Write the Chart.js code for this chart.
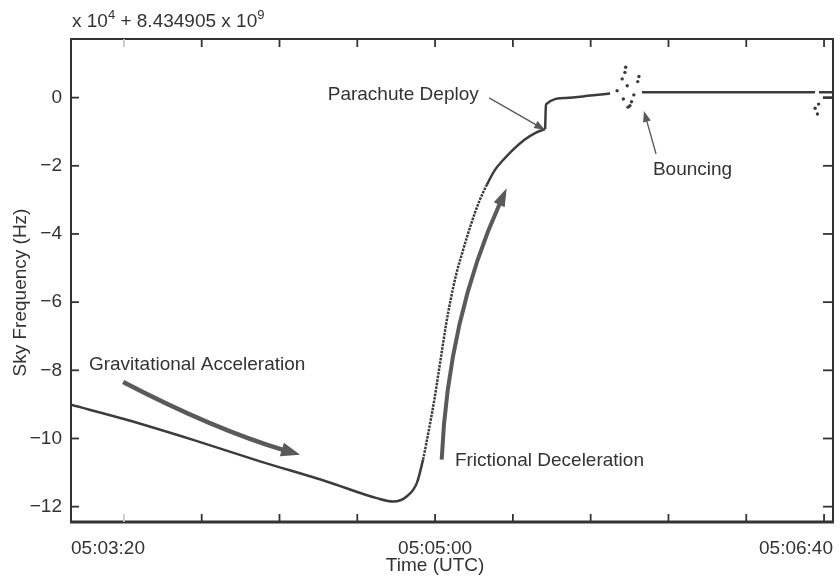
<!DOCTYPE html>
<html>
<head>
<meta charset="utf-8">
<title>Sky frequency during descent</title>
<script src="https://cdn.jsdelivr.net/npm/chart.js@4/dist/chart.umd.min.js"></script>
<style>
  html, body { margin: 0; padding: 0; background: #fff; }
</style>
</head>
<body>
<canvas id="sky" width="840" height="577"></canvas>
<script>
'use strict';

// Time in seconds after 05:03:20 UTC
const timeSec = [
  6.4, 20.7, 37.8, 55.0, 72.1, 85.0, 89.3, 92.7, 95.3,
  96.9, 98.4, 99.8, 101.0, 101.8, 102.8, 104.0, 105.4, 107.2,
  109.2, 111.5, 113.3, 115.4, 117.5, 120.0, 122.9, 125.7, 128.3,
  128.5, 133.6, 140.0, 145.0, 146.0, 153.2, 170.0, 185.0, 197.7, 198.2, 198.7, 202.3,
];
// Sky frequency, x 10^4 Hz above 8.434905 x 10^9 Hz
const skyFreq = [
  -9.01, -9.45, -10.04, -10.67, -11.26, -11.75, -11.85, -11.70, -11.31,
  -10.62, -9.75, -8.87, -7.99, -7.40, -6.67, -5.93, -5.20, -4.47,
  -3.73, -3.00, -2.56, -2.12, -1.83, -1.53, -1.24, -1.04, -0.92,
  -0.20, -0.01, 0.06, 0.12, null, 0.16, 0.16, 0.16, 0.16, null, 0.16, 0.16,
];
const DEPLOY_SEC = 128.3;

// Scattered lock points while the lander bounces
const bounceTime = [146.8, 148.1, 148.8, 149.0, 149.4, 152.1, 152.4, 151.1, 148.4, 150.5, 150.1, 149.6, 197.7, 198.6, 198.3];
const bounceFreq = [0.20, 0.55, 0.74, 0.89, 0.35, 0.47, 0.62, 0.08, -0.04, -0.12, -0.24, -0.28, -0.31, -0.19, -0.48];

// Short second track at the end of the record
const tailTime = [199.7, 202.3];
const tailFreq = [0.0, 0.0];

const xTicks = [20, 40, 60, 80, 100, 120, 140, 160, 180, 200];
const yTicks = [-12, -10, -8, -6, -4, -2, 0];
const X_MIN = 6.4;
const X_MAX = 202.3;
const xLabelAt = [X_MIN, 100, X_MAX];
const xLabelText = ['05:03:20', '05:05:00', '05:06:40'];

const FONT = '"Liberation Sans", Arial, Helvetica, sans-serif';
const INK = '#333333';
const LINE = '#3c3c3c';
const ARROW = '#5a5a5a';

// Callouts, anchored in data units (seconds, 10^4 Hz)
const notes = [
  { text: 'Gravitational Acceleration', at: [11.0, -7.84] },
  { text: 'Frictional Deceleration', at: [105.1, -10.66] },
  { text: 'Parachute Deploy', at: [72.4, 0.09] },
  { text: 'Bouncing', at: [156.0, -2.12] },
];
const arrows = [
  { from: [19.8, -8.34], via: [43.4, -9.74], to: [65.3, -10.48], width: 4.5, head: [19, 14] },
  { from: [101.7, -10.62], via: [103.3, -6.46], to: [118.4, -2.66], width: 4, head: [18, 12] },
  { from: [113.9, -0.01], to: [128.3, -0.95], width: 1.4, head: [11, 8] },
  { from: [156.8, -1.65], to: [153.7, -0.39], width: 1.4, head: [11, 8] },
];

const points = timeSec.map((x, i) => ({ x, y: skyFreq[i] }));
// descent and climb up to the chute, then the trace after the chute opens
const beforeChute = points.filter((p) => p.x <= DEPLOY_SEC);
const afterChute = points.filter((p) => p.x >= DEPLOY_SEC);
const toXY = (xs, ys) => xs.map((x, i) => ({ x, y: ys[i] }));
const steep = (c) => c.p0.parsed.x >= 96 && c.p1.parsed.x <= 113.3;

const decorations = {
  id: 'decorations',
  afterDatasetsDraw(chart) {
    const { ctx, scales: { x, y } } = chart;
    const px = (p) => [x.getPixelForValue(p[0]), y.getPixelForValue(p[1])];
    ctx.save();
    ctx.fillStyle = ARROW;
    ctx.strokeStyle = ARROW;
    arrows.forEach((a) => {
      const p0 = px(a.from);
      const tip = px(a.to);
      const c = a.via ? px(a.via) : p0;
      let dx = tip[0] - c[0];
      let dy = tip[1] - c[1];
      const len = Math.hypot(dx, dy);
      dx /= len; dy /= len;
      const [hl, hw] = a.head;
      const base = [tip[0] - dx * hl * 0.8, tip[1] - dy * hl * 0.8];
      ctx.lineWidth = a.width;
      ctx.lineCap = 'butt';
      ctx.beginPath();
      ctx.moveTo(p0[0], p0[1]);
      if (a.via) ctx.quadraticCurveTo(c[0], c[1], base[0], base[1]);
      else ctx.lineTo(base[0], base[1]);
      ctx.stroke();
      const bx = tip[0] - dx * hl;
      const by = tip[1] - dy * hl;
      ctx.beginPath();
      ctx.moveTo(tip[0], tip[1]);
      ctx.lineTo(bx - dy * hw / 2, by + dx * hw / 2);
      ctx.lineTo(bx + dy * hw / 2, by - dx * hw / 2);
      ctx.closePath();
      ctx.fill();
    });

    ctx.fillStyle = INK;
    ctx.font = '19px ' + FONT;
    ctx.textAlign = 'left';
    ctx.textBaseline = 'middle';
    notes.forEach((n) => {
      const [nx, ny] = px(n.at);
      ctx.fillText(n.text, nx, ny);
    });
    ctx.restore();
  },
  afterDraw(chart) {
    const { ctx, chartArea: a, scales: { x, y } } = chart;
    ctx.save();
    // axes box
    ctx.strokeStyle = INK;
    ctx.lineWidth = 2;
    ctx.strokeRect(a.left, a.top, a.right - a.left, a.bottom - a.top);
    ctx.lineWidth = 3;
    ctx.beginPath();
    ctx.moveTo(a.left - 1, a.bottom);
    ctx.lineTo(a.right + 1, a.bottom);
    ctx.stroke();

    // inward tick marks on all four sides
    ctx.lineWidth = 1.8;
    const seg = (x1, y1, x2, y2) => {
      ctx.beginPath();
      ctx.moveTo(x1, y1);
      ctx.lineTo(x2, y2);
      ctx.stroke();
    };
    xTicks.forEach((v, i) => {
      const p = x.getPixelForValue(v);
      ctx.strokeStyle = i === 0 ? '#c8c8c8' : INK;
      seg(p, a.bottom, p, a.bottom - 8);
      seg(p, a.top, p, a.top + 8);
    });
    ctx.strokeStyle = INK;
    yTicks.forEach((v) => {
      const p = y.getPixelForValue(v);
      seg(a.left, p, a.left + 8, p);
      seg(a.right, p, a.right - 10, p);
    });

    // scale factor above the axes
    ctx.fillStyle = INK;
    ctx.textBaseline = 'alphabetic';
    ctx.textAlign = 'left';
    let cx = a.left + 1;
    const base = 27;
    const put = (s, size, rise) => {
      ctx.font = size + 'px ' + FONT;
      ctx.fillText(s, cx, base - rise);
      cx += ctx.measureText(s).width;
    };
    put('x 10', 19, 0);
    put('4', 13, 8);
    put(' + 8.434905 x 10', 19, 0);
    put('9', 13, 8);

    // axis titles
    ctx.font = '19px ' + FONT;
    ctx.textAlign = 'center';
    ctx.textBaseline = 'middle';
    ctx.fillText('Time (UTC)', x.getPixelForValue(100), 566);
    ctx.translate(21, (a.top + a.bottom) / 2 + 12);
    ctx.rotate(-Math.PI / 2);
    ctx.fillText('Sky Frequency (Hz)', 0, 0);
    ctx.restore();
  },
};

const traceStyle = {
  borderColor: LINE,
  borderWidth: 2.5,
  pointRadius: 0,
  cubicInterpolationMode: 'monotone',
  spanGaps: false,
};

new Chart(document.getElementById('sky'), {
  type: 'line',
  data: {
    datasets: [
      {
        ...traceStyle,
        label: 'Sky frequency',
        data: beforeChute,
        segment: {
          // sparse samples on the steep climb show up as a dotted trace
          borderDash: (c) => (steep(c) ? [2.5, 1.1] : undefined),
          borderWidth: (c) => (steep(c) ? 2.5 : undefined),
        },
      },
      {
        ...traceStyle,
        label: 'Sky frequency (chute)',
        data: afterChute,
      },
      {
        ...traceStyle,
        label: 'Second track',
        data: toXY(tailTime, tailFreq),
      },
      {
        label: 'Bounce points',
        data: toXY(bounceTime, bounceFreq),
        showLine: false,
        pointRadius: 1.7,
        pointBackgroundColor: LINE,
        pointBorderWidth: 0,
      },
    ],
  },
  options: {
    responsive: false,
    animation: false,
    devicePixelRatio: 1,
    layout: { padding: { top: 39, right: 7, left: 0, bottom: 0 } },
    plugins: {
      legend: { display: false },
      tooltip: { enabled: false },
    },
    scales: {
      x: {
        type: 'linear',
        min: X_MIN,
        max: X_MAX,
        grid: { display: false, drawTicks: false },
        border: { display: false },
        afterBuildTicks: (s) => {
          s.ticks = [X_MIN, ...xTicks, X_MAX].map((value) => ({ value }));
        },
        afterFit: (s) => {
          s.height = 55;
          s.paddingLeft = 0;
          s.paddingRight = 0;
        },
        ticks: {
          autoSkip: false,
          maxRotation: 0,
          align: 'inner',
          padding: 15,
          color: INK,
          font: { family: FONT, size: 19 },
          callback: (v) => {
            const k = xLabelAt.indexOf(v);
            return k >= 0 ? xLabelText[k] : '';
          },
        },
      },
      y: {
        type: 'linear',
        min: -12.45,
        max: 1.72,
        grid: { display: false, drawTicks: false },
        border: { display: false },
        afterBuildTicks: (s) => {
          s.ticks = yTicks.map((value) => ({ value }));
        },
        afterFit: (s) => {
          s.width = 71;
          s.paddingTop = 0;
          s.paddingBottom = 0;
        },
        ticks: {
          padding: 9,
          color: INK,
          font: { family: FONT, size: 19 },
          callback: (v) => (v < 0 ? '\u2212' + Math.abs(v) : String(v)),
        },
      },
    },
  },
  plugins: [decorations],
});
</script>
</body>
</html>
